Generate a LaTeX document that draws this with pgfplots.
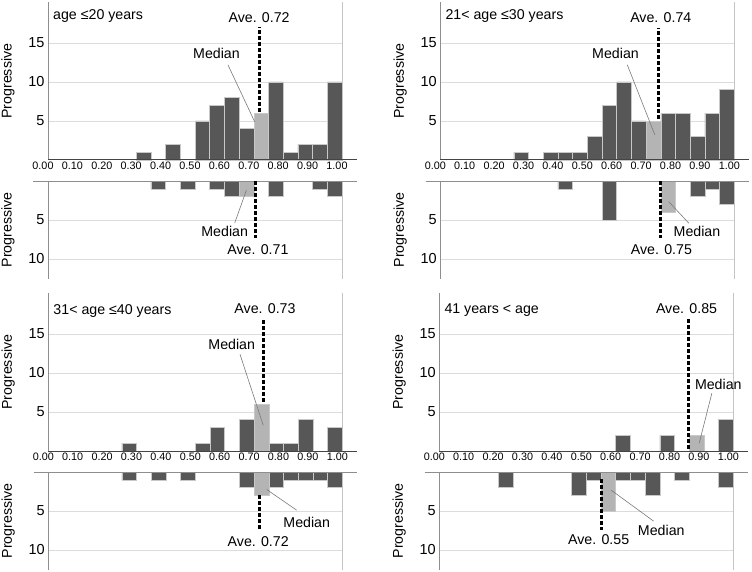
\documentclass[border=0pt]{standalone}
\usepackage{fontspec}
\setmainfont{Liberation Sans}
\usepackage{pgfplots}
\pgfplotsset{compat=1.18}
\definecolor{barc}{HTML}{575757}
\definecolor{medc}{HTML}{B4B4B4}
\definecolor{edgec}{HTML}{C8C8C8}
\definecolor{gridc}{HTML}{DCDCDC}
\definecolor{rightc}{HTML}{C4C4C4}
\definecolor{axc}{HTML}{8E8E8E}
\definecolor{basec}{HTML}{444444}
\definecolor{leadc}{HTML}{7A7A7A}
\newcommand{\lab}{\fontsize{14.2}{16}\selectfont}
\tikzset{
  ave/.style={line width=3pt, dash pattern=on 3.5pt off 2.5pt, black},
  lead/.style={leadc, line width=0.6pt},
}
\pgfplotsset{
  common/.style={scale only axis, width=294pt, xmin=0, xmax=1, enlargelimits=false, clip=false,
    axis line style={draw=none}, major tick length=0pt, ymajorgrids,
    grid style={gridc, line width=0.7pt},
    /pgf/number format/assume math mode=true,
    yticklabel style={font=\fontsize{14.5}{16}\selectfont},
    ylabel={Progressive},
    ylabel style={at={(axis description cs:0,0.5)}, anchor=center, yshift=40pt, font=\lab}},
  toppanel/.style={common, ymin=0, ymax=20.2, height=157.6pt, ytick={5,10,15}, yticklabels={5,10,15},
    xtick={0,0.1,0.2,0.3,0.4,0.5,0.6,0.7,0.8,0.9,1},
    xticklabels={0.00,0.10,0.20,0.30,0.40,0.50,0.60,0.70,0.80,0.90,1.00},
    xticklabel style={font=\fontsize{10.8}{12}\selectfont, xshift=-5pt, yshift=1.5pt}},
  botpanel/.style={common, y dir=reverse, ymin=0, ymax=12.5, height=97.5pt, ytick={5,10}, yticklabels={5,10}, xtick=\empty},
  dark/.style={ybar, bar width=0.05, bar shift=0pt, fill=barc, draw=edgec, line width=0.6pt},
  med/.style={ybar, bar width=0.05, bar shift=0pt, fill=medc, draw=edgec, line width=0.6pt},
}
\newcommand{\topframe}{%
  \draw[axc, line width=0.8pt] (axis cs:0,0) -- (axis cs:0,20.2);
  \draw[rightc, line width=0.8pt] (axis cs:1,0) -- (axis cs:1,20.2);
  \draw[basec, line width=1pt] (axis cs:0,0) -- (axis cs:1.05,0);}
\newcommand{\botframe}{%
  \draw[axc, line width=0.8pt] (axis cs:0,0) -- (axis cs:0,12.5);
  \draw[rightc, line width=0.8pt] (axis cs:1,0) -- (axis cs:1,12.5);
  \draw[axc, line width=1pt] (axis cs:-0.05,0) -- (axis cs:1.05,0);}
\begin{document}
\begin{tikzpicture}
\useasboundingbox (0,0) rectangle (752pt,-572pt);
% ---------------- Panel 1 ----------------
\begin{axis}[toppanel, at={(48pt,-160pt)}, anchor=south west]
\addplot[dark] coordinates {(0.325,1) (0.425,2) (0.525,5) (0.575,7) (0.625,8) (0.675,4) (0.775,10) (0.825,1) (0.875,2) (0.925,2) (0.975,10)};
\addplot[med] coordinates {(0.725,6)};
\topframe
\draw[ave] (axis cs:0.721,6.2) -- (axis cs:0.721,17);
\node[font=\lab] at (axis cs:0.718,18.3) {Ave. 0.72};
\draw[lead] (axis cs:0.612,12.2) -- (axis cs:0.703,4.9);
\node[font=\lab] at (axis cs:0.573,13.7) {Median};
\node[font=\lab, anchor=west, inner sep=0pt] at (axis cs:0.017,18.5) {age ≤20 years};
\end{axis}
\begin{axis}[botpanel, at={(48pt,-181pt)}, anchor=north west]
\addplot[dark] coordinates {(0.375,1) (0.475,1) (0.575,1) (0.625,2) (0.775,2) (0.925,1) (0.975,2)};
\addplot[med] coordinates {(0.675,2)};
\botframe
\draw[ave] (axis cs:0.706,0) -- (axis cs:0.706,7.3);
\node[font=\lab] at (axis cs:0.714,8.85) {Ave. 0.71};
\draw[lead] (axis cs:0.635,5.4) -- (axis cs:0.675,1.15);
\node[font=\lab] at (axis cs:0.601,6.5) {Median};
\end{axis}
% ---------------- Panel 2 ----------------
\begin{axis}[toppanel, at={(440.3pt,-160pt)}, anchor=south west]
\addplot[dark] coordinates {(0.275,1) (0.375,1) (0.425,1) (0.475,1) (0.525,3) (0.575,7) (0.625,10) (0.675,5) (0.775,6) (0.825,6) (0.875,3) (0.925,6) (0.975,9)};
\addplot[med] coordinates {(0.725,5)};
\topframe
\draw[ave] (axis cs:0.741,5.3) -- (axis cs:0.741,16.9);
\node[font=\lab] at (axis cs:0.75,18.3) {Ave. 0.74};
\draw[lead] (axis cs:0.636,12.2) -- (axis cs:0.73,3.2);
\node[font=\lab] at (axis cs:0.596,13.7) {Median};
\node[font=\lab, anchor=west, inner sep=0pt] at (axis cs:0.017,18.5) {21< age ≤30 years};
\end{axis}
\begin{axis}[botpanel, at={(440.3pt,-181pt)}, anchor=north west]
\addplot[dark] coordinates {(0.425,1) (0.575,5) (0.875,2) (0.925,1) (0.975,3)};
\addplot[med] coordinates {(0.775,4)};
\botframe
\draw[ave] (axis cs:0.749,0) -- (axis cs:0.749,7.35);
\node[font=\lab] at (axis cs:0.752,8.85) {Ave. 0.75};
\draw[lead] (axis cs:0.845,5.4) -- (axis cs:0.777,2.65);
\node[font=\lab] at (axis cs:0.873,6.5) {Median};
\end{axis}
% ---------------- Panel 3 ----------------
\begin{axis}[toppanel, at={(48.3pt,-451pt)}, anchor=south west]
\addplot[dark] coordinates {(0.275,1) (0.525,1) (0.575,3) (0.675,4) (0.775,1) (0.825,1) (0.875,4) (0.975,3)};
\addplot[med] coordinates {(0.725,6)};
\topframe
\draw[ave] (axis cs:0.731,6.3) -- (axis cs:0.731,17);
\node[font=\lab] at (axis cs:0.737,18.2) {Ave. 0.73};
\draw[lead] (axis cs:0.652,12.4) -- (axis cs:0.731,3.3);
\node[font=\lab] at (axis cs:0.624,13.7) {Median};
\node[font=\lab, anchor=west, inner sep=0pt] at (axis cs:0.017,18.0) {31< age ≤40 years};
\end{axis}
\begin{axis}[botpanel, at={(48.3pt,-472pt)}, anchor=north west]
\addplot[dark] coordinates {(0.275,1) (0.375,1) (0.475,1) (0.675,2) (0.775,2) (0.825,1) (0.875,1) (0.925,1) (0.975,2)};
\addplot[med] coordinates {(0.725,3)};
\botframe
\draw[ave] (axis cs:0.718,3) -- (axis cs:0.718,7.4);
\node[font=\lab] at (axis cs:0.714,8.9) {Ave. 0.72};
\draw[lead] (axis cs:0.845,4.9) -- (axis cs:0.743,2.25);
\node[font=\lab] at (axis cs:0.879,6.4) {Median};
\end{axis}
% ---------------- Panel 4 ----------------
\begin{axis}[toppanel, at={(439.3pt,-451pt)}, anchor=south west]
\addplot[dark] coordinates {(0.625,2) (0.775,2) (0.975,4)};
\addplot[med] coordinates {(0.875,2)};
\topframe
\draw[ave] (axis cs:0.847,0.3) -- (axis cs:0.847,17);
\node[font=\lab] at (axis cs:0.841,18.2) {Ave. 0.85};
\draw[lead] (axis cs:0.927,7.4) -- (axis cs:0.884,1.0);
\node[font=\lab] at (axis cs:0.949,8.5) {Median};
\node[font=\lab, anchor=west, inner sep=0pt] at (axis cs:0.017,18.0) {41 years < age};
\end{axis}
\begin{axis}[botpanel, at={(439.3pt,-472pt)}, anchor=north west]
\addplot[dark] coordinates {(0.225,2) (0.475,3) (0.525,1) (0.625,1) (0.675,1) (0.725,3) (0.825,1) (0.975,2)};
\addplot[med] coordinates {(0.575,5)};
\botframe
\draw[ave] (axis cs:0.55,0.94) -- (axis cs:0.55,7.45);
\node[font=\lab] at (axis cs:0.542,8.7) {Ave. 0.55};
\draw[lead] (axis cs:0.729,6.3) -- (axis cs:0.585,2.34);
\node[font=\lab] at (axis cs:0.755,7.45) {Median};
\end{axis}
\end{tikzpicture}
\end{document}
